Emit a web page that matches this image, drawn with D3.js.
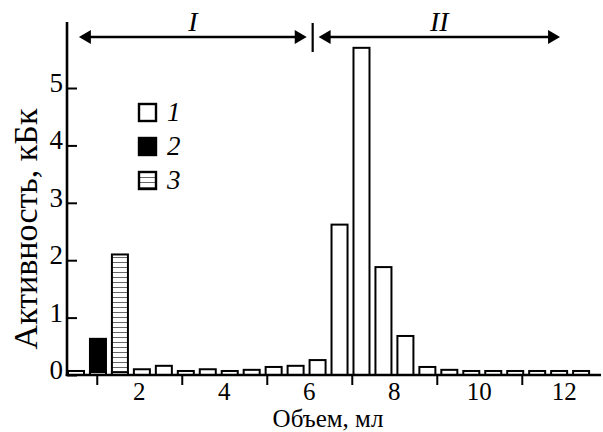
<!DOCTYPE html>
<html><head><meta charset="utf-8">
<script src="https://cdn.jsdelivr.net/npm/d3@7"></script>
<style>body{margin:0;background:#fff}svg{display:block}text{font-family:"Liberation Serif","Times New Roman",serif;fill:#000}</style>
</head><body>
<script>
// Fraction numbers
const fractions = d3.range(1, 25);
// Series 1 (white bars), one value per fraction, kBq
const series1 = [0.07,0.05,0.05,0.10,0.16,0.07,0.10,0.07,0.09,0.14,0.16,0.26,2.62,5.70,1.88,0.68,0.14,0.09,0.07,0.07,0.07,0.07,0.07,0.07];
// Series 2 (black) and 3 (hatched): single fractions
const series2 = [{fraction:2, value:0.63}];
const series3 = [{fraction:3, value:2.10}];
const yTicks = [0,1,2,3,4,5];
const xLabelTicks = [2,4,6,8,10,12];
const xMarkTicks = [1,3,5,7,9,11];
const legendItems = ["1","2","3"];
const regions = [{label:"I", from:0.58, to:5.94}, {label:"II", from:6.22, to:11.9}];
const regionSplit = 6.08;

const W=603,H=432;
const svg=d3.select("body").append("svg").attr("width",W).attr("height",H);
const defs=svg.append("defs");
const pat=defs.append("pattern").attr("id","hatch").attr("patternUnits","userSpaceOnUse").attr("width",6).attr("height",5);
pat.append("rect").attr("width",6).attr("height",5).attr("fill","#fff");
pat.append("line").attr("x1",0).attr("x2",6).attr("y1",2.5).attr("y2",2.5).attr("stroke","#666").attr("stroke-width",1);

const x0=67, yBase=375;
const x=d3.scaleLinear().domain([0.3,12.84]).range([x0,600]);
const y=d3.scaleLinear().domain([0,6.15]).range([yBase,22]);
const xb=d3.scaleBand().domain(fractions).range([68,589.1]).paddingInner(0.271).paddingOuter(0);

const g=svg.append("g");
g.selectAll(".s2").data(series2).join("rect")
 .attr("x",d=>xb(d.fraction)).attr("width",xb.bandwidth())
 .attr("y",d=>y(d.value)).attr("height",d=>yBase-y(d.value))
 .attr("fill","#000").attr("stroke","#000").attr("stroke-width",2);
g.selectAll(".s3").data(series3).join("rect")
 .attr("x",d=>xb(d.fraction)).attr("width",xb.bandwidth())
 .attr("y",d=>y(d.value)).attr("height",d=>yBase-y(d.value))
 .attr("fill","url(#hatch)").attr("stroke","#000").attr("stroke-width",2);
g.selectAll(".s1").data(fractions).join("rect")
 .attr("x",d=>xb(d)).attr("width",xb.bandwidth())
 .attr("y",(d,i)=>y(series1[i])).attr("height",(d,i)=>yBase-y(series1[i]))
 .attr("fill","#fff").attr("stroke","#000").attr("stroke-width",2);

// axes
const yAxis=d3.axisRight(y).tickValues(yTicks).tickSize(10).tickFormat("");
const ya=svg.append("g").attr("transform",`translate(${x0},0)`).call(yAxis);
ya.select(".domain").remove();
ya.selectAll("line").attr("stroke","#000").attr("stroke-width",2);
svg.selectAll(".ylab").data(yTicks).join("text").attr("x",63).attr("y",d=>y(d)+4)
 .attr("text-anchor","end").attr("font-size",27).text(d=>d);
svg.append("line").attr("x1",x0).attr("x2",x0).attr("y1",22).attr("y2",yBase+1).attr("stroke","#000").attr("stroke-width",2.6);

const xAxis=d3.axisBottom(x).tickValues(xMarkTicks).tickSize(10).tickFormat("");
const xa=svg.append("g").attr("transform",`translate(0,${yBase})`).call(xAxis);
xa.select(".domain").remove();
xa.selectAll("line").attr("stroke","#000").attr("stroke-width",2);
svg.append("line").attr("x1",x0-1.3).attr("x2",601).attr("y1",yBase).attr("y2",yBase).attr("stroke","#000").attr("stroke-width",2.6);
svg.selectAll(".xlab").data(xLabelTicks).join("text").attr("x",d=>x(d)).attr("y",400)
 .attr("text-anchor","middle").attr("font-size",25).text(d=>d);

svg.append("text").attr("x",328).attr("y",427).attr("text-anchor","middle").attr("font-size",25).text("Объем, мл");
svg.append("text").attr("transform",`translate(37,229) rotate(-90)`).attr("text-anchor","middle").attr("font-size",34).text("Активность, кБк");

// regions arrows
const ay=37;
regions.forEach(r=>{
  const a=x(r.from), b=x(r.to);
  svg.append("line").attr("x1",a+10).attr("x2",b-10).attr("y1",ay).attr("y2",ay).attr("stroke","#000").attr("stroke-width",2.4);
  svg.append("path").attr("d",`M${a},${ay}L${a+12},${ay-7}L${a+12},${ay+7}Z`).attr("fill","#000");
  svg.append("path").attr("d",`M${b},${ay}L${b-12},${ay-7}L${b-12},${ay+7}Z`).attr("fill","#000");
  svg.append("text").attr("x",(a+b)/2).attr("y",ay-6).attr("text-anchor","middle").attr("font-size",28).attr("font-style","italic").text(r.label);
});
svg.append("line").attr("x1",x(regionSplit)).attr("x2",x(regionSplit)).attr("y1",23).attr("y2",52).attr("stroke","#000").attr("stroke-width",2.2);

// legend
const lg=svg.append("g");
const fills=["#fff","#000","url(#hatch)"];
legendItems.forEach((t,i)=>{
  const yy=104+i*34;
  lg.append("rect").attr("x",139).attr("y",yy).attr("width",17).attr("height",17)
    .attr("fill",fills[i]).attr("stroke","#000").attr("stroke-width",2.4);
  lg.append("text").attr("x",167).attr("y",yy+17).attr("font-size",27).attr("font-style","italic").text(t);
});
</script>
</body></html>
